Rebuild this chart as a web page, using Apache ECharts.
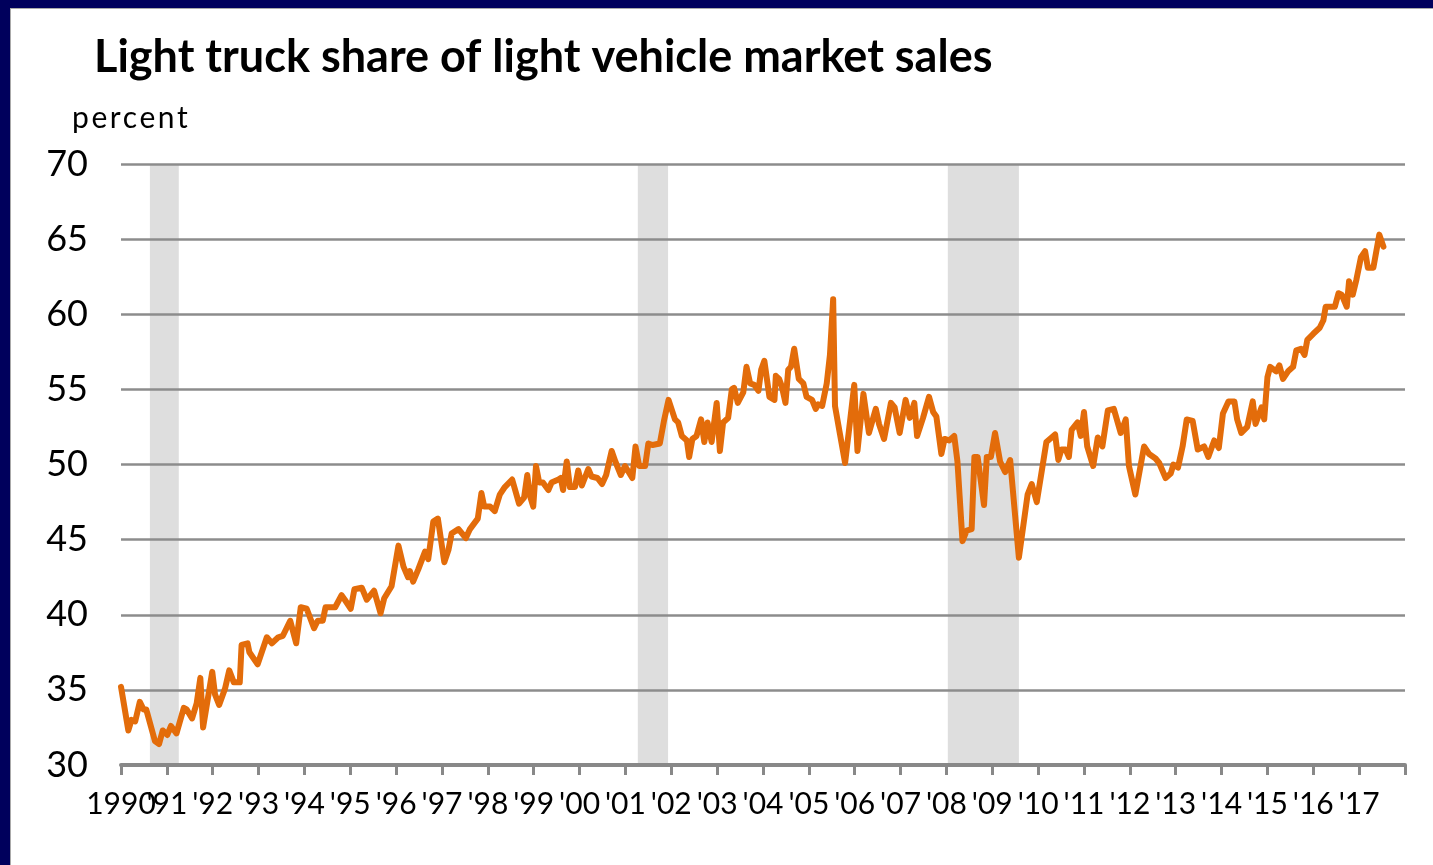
<!DOCTYPE html>
<html>
<head>
<meta charset="utf-8">
<script src="https://cdn.jsdelivr.net/npm/echarts@6/dist/echarts.min.js"></script>
<style>
  html, body { margin: 0; padding: 0; width: 1433px; height: 865px; overflow: hidden; background: #00005C; }
  #frame { position: absolute; left: 10px; top: 8px; width: 1423px; height: 857px; background: #fff; border-left: 1px solid #aaa; border-top: 1px solid #aaa; box-sizing: border-box; }
  #chart { position: absolute; left: 0; top: 0; width: 1433px; height: 865px; }
  #unit { position: absolute; left: 72px; top: 98px; font-family: Lato, "Open Sans", sans-serif; font-size: 30px; letter-spacing: 2.6px; color: #000; line-height: 36px; z-index: 5; }
</style>
</head>
<body>
<div id="frame"></div>
<div id="chart"></div>
<div id="unit"></div>
<script>
// Decimal-year positions of the line's vertices
var dates = [
  1990.0, 1990.16, 1990.23, 1990.31, 1990.41, 1990.49, 1990.55, 1990.74, 1990.83, 1990.91,
  1991.01, 1991.09, 1991.21, 1991.37, 1991.43, 1991.55, 1991.65, 1991.73, 1991.79, 1991.99,
  1992.05, 1992.14, 1992.27, 1992.36, 1992.40, 1992.46, 1992.59, 1992.63, 1992.76, 1992.80,
  1992.98, 1993.18, 1993.29, 1993.43, 1993.53, 1993.57, 1993.69, 1993.82, 1993.92, 1994.05,
  1994.21, 1994.29, 1994.40, 1994.46, 1994.67, 1994.81, 1994.88, 1995.01, 1995.09, 1995.25,
  1995.36, 1995.52, 1995.66, 1995.74, 1995.90, 1996.05, 1996.16, 1996.26, 1996.30, 1996.37,
  1996.48, 1996.63, 1996.70, 1996.81, 1996.91, 1997.05, 1997.14, 1997.21, 1997.36, 1997.52,
  1997.61, 1997.78, 1997.86, 1997.92, 1998.05, 1998.15, 1998.26, 1998.37, 1998.53, 1998.68,
  1998.79, 1998.86, 1998.92, 1998.99, 1999.05, 1999.12, 1999.20, 1999.32, 1999.39, 1999.54,
  1999.59, 1999.64, 1999.72, 1999.79, 1999.90, 1999.97, 2000.05, 2000.19, 2000.26, 2000.39,
  2000.49, 2000.58, 2000.70, 2000.78, 2000.90, 2000.99, 2001.15, 2001.22, 2001.30, 2001.43,
  2001.50, 2001.59, 2001.75, 2001.84, 2001.94, 2002.08, 2002.15, 2002.23, 2002.34, 2002.39,
  2002.46, 2002.55, 2002.65, 2002.72, 2002.79, 2002.88, 2002.99, 2003.06, 2003.13, 2003.24,
  2003.32, 2003.37, 2003.45, 2003.57, 2003.64, 2003.72, 2003.81, 2003.90, 2003.96, 2004.03,
  2004.14, 2004.25, 2004.28, 2004.35, 2004.41, 2004.49, 2004.55, 2004.61, 2004.68, 2004.78,
  2004.88, 2004.95, 2005.07, 2005.15, 2005.20, 2005.29, 2005.39, 2005.46, 2005.53, 2005.57,
  2005.68, 2005.79, 2005.88, 2005.99, 2006.06, 2006.19, 2006.31, 2006.46, 2006.53, 2006.64,
  2006.79, 2006.87, 2006.98, 2007.11, 2007.20, 2007.30, 2007.36, 2007.49, 2007.62, 2007.71,
  2007.78, 2007.89, 2007.96, 2008.06, 2008.17, 2008.24, 2008.35, 2008.44, 2008.55, 2008.61,
  2008.68, 2008.82, 2008.88, 2008.97, 2009.06, 2009.17, 2009.28, 2009.39, 2009.58, 2009.77,
  2009.86, 2009.97, 2010.07, 2010.18, 2010.37, 2010.44, 2010.51, 2010.60, 2010.67, 2010.73,
  2010.86, 2010.93, 2011.00, 2011.07, 2011.20, 2011.30, 2011.40, 2011.52, 2011.65, 2011.80,
  2011.91, 2011.98, 2012.12, 2012.31, 2012.42, 2012.56, 2012.64, 2012.78, 2012.89, 2012.95,
  2013.05, 2013.15, 2013.24, 2013.37, 2013.48, 2013.62, 2013.71, 2013.84, 2013.94, 2014.03,
  2014.15, 2014.28, 2014.34, 2014.43, 2014.56, 2014.68, 2014.74, 2014.87, 2014.93, 2015.00,
  2015.06, 2015.19, 2015.26, 2015.34, 2015.45, 2015.56, 2015.63, 2015.73, 2015.81, 2015.87,
  2016.00, 2016.14, 2016.22, 2016.27, 2016.47, 2016.55, 2016.62, 2016.73, 2016.78, 2016.86,
  2016.94, 2017.04, 2017.13, 2017.19, 2017.31, 2017.44, 2017.53
];
// Light truck share, percent
var shares = [
  35.2, 32.3, 33.0, 32.9, 34.2, 33.7, 33.7, 31.6, 31.4, 32.3,
  32.0, 32.6, 32.1, 33.8, 33.7, 33.1, 34.1, 35.8, 32.5, 36.2,
  34.7, 34.0, 35.1, 36.3, 36.3, 35.5, 35.5, 38.0, 38.1, 37.5,
  36.7, 38.5, 38.1, 38.5, 38.6, 38.5, 39.6, 38.1, 40.5, 40.4,
  39.1, 39.6, 39.6, 40.5, 40.5, 41.3, 41.0, 40.4, 41.7, 41.8,
  41.0, 41.6, 40.1, 41.1, 41.9, 44.6, 43.2, 42.5, 42.9, 42.2,
  43.0, 44.2, 43.7, 46.2, 46.4, 43.5, 44.3, 45.4, 45.7, 45.1,
  45.7, 46.4, 48.1, 47.2, 47.2, 46.9, 48.0, 48.5, 49.0, 47.4,
  47.8, 49.3, 47.9, 47.2, 49.9, 48.8, 48.8, 48.3, 48.8, 49.0,
  49.1, 48.3, 50.2, 48.5, 48.5, 49.6, 48.6, 49.7, 49.2, 49.1,
  48.7, 49.3, 50.9, 50.2, 49.3, 49.9, 49.1, 51.2, 49.9, 49.9,
  51.4, 51.3, 51.4, 52.9, 54.3, 53.0, 52.8, 51.9, 51.6, 50.5,
  51.7, 51.9, 53.0, 51.5, 52.8, 51.5, 54.1, 50.9, 52.8, 53.1,
  55.0, 55.1, 54.1, 54.8, 56.5, 55.4, 55.3, 54.9, 56.3, 56.9,
  54.5, 54.3, 55.9, 55.7, 55.2, 54.1, 56.3, 56.5, 57.7, 55.7,
  55.4, 54.5, 54.3, 53.7, 54.0, 53.9, 55.4, 57.3, 61.0, 53.9,
  52.0, 50.1, 52.4, 55.3, 50.9, 54.7, 52.1, 53.7, 52.7, 51.7,
  54.1, 53.8, 52.1, 54.3, 53.1, 54.1, 51.9, 53.1, 54.5, 53.5,
  53.2, 50.7, 51.7, 51.6, 51.9, 50.2, 44.9, 45.6, 45.7, 50.5,
  50.5, 47.3, 50.5, 50.5, 52.1, 50.2, 49.5, 50.3, 43.8, 48.0,
  48.7, 47.5, 49.4, 51.5, 52.0, 50.3, 51.0, 51.0, 50.5, 52.3,
  52.8, 51.9, 53.5, 51.2, 49.9, 51.8, 51.2, 53.6, 53.7, 52.1,
  53.0, 49.9, 48.0, 51.2, 50.7, 50.4, 50.1, 49.1, 49.4, 50.0,
  49.8, 51.2, 53.0, 52.9, 51.0, 51.2, 50.5, 51.6, 51.1, 53.4,
  54.2, 54.2, 53.0, 52.1, 52.5, 54.2, 52.7, 53.8, 53.0, 55.8,
  56.5, 56.2, 56.6, 55.7, 56.2, 56.5, 57.6, 57.7, 57.3, 58.3,
  58.7, 59.1, 59.6, 60.5, 60.5, 61.4, 61.3, 60.5, 62.2, 61.3,
  62.3, 63.8, 64.2, 63.1, 63.1, 65.3, 64.5
];
// Recession periods (decimal years)
var recessionStarts = [1990.63, 2001.27, 2008.03];
var recessionEnds   = [1991.26, 2001.93, 2009.58];
// Axis tick labels
var yearLabels = ['1990', "'91", "'92", "'93", "'94", "'95", "'96", "'97", "'98", "'99",
  "'00", "'01", "'02", "'03", "'04", "'05", "'06", "'07", "'08", "'09",
  "'10", "'11", "'12", "'13", "'14", "'15", "'16", "'17"];
var titleText = 'Light truck share of light vehicle market sales';
var unitText = 'percent';

document.getElementById('unit').textContent = unitText;

var lineData = dates.map(function (d, i) { return [d, shares[i]]; });
var bands = recessionStarts.map(function (s, i) { return [{ xAxis: s }, { xAxis: recessionEnds[i] }]; });

var chart = echarts.init(document.getElementById('chart'), null, { renderer: 'canvas' });
var FONT = 'Lato, "Open Sans", sans-serif';
function labelFor(parity) {
  // split labels over two axes so neighbouring labels never compete for space
  return function (v) {
    var i = Math.round(v - 1990);
    return (i % 2 === parity) ? (yearLabels[i] || '') : '';
  };
}
var xLabelStyle = { show: true, margin: 24, showMaxLabel: true, showMinLabel: true, hideOverlap: false,
  fontFamily: FONT, fontSize: 30, color: '#000' };
chart.setOption({
  backgroundColor: 'transparent',
  animation: false,
  title: {
    text: titleText, left: 89, top: 30,
    textStyle: { fontFamily: FONT, fontWeight: 'bold', fontSize: 45, color: '#000' }
  },
  grid: { left: 121, right: 28, top: 164, bottom: 100, containLabel: false },
  xAxis: [{
    type: 'value', min: 1990, max: 2018, interval: 1, z: 5,
    axisLine: { show: true, onZero: false, lineStyle: { color: '#888', width: 4 } },
    axisTick: { show: true, length: 10, lineStyle: { color: '#888', width: 3 } },
    splitLine: { show: false },
    axisLabel: Object.assign({}, xLabelStyle, { formatter: labelFor(0) })
  }, {
    type: 'value', min: 1990, max: 2018, interval: 1, z: 5, position: 'bottom', offset: 0,
    axisLine: { show: false, onZero: false }, axisTick: { show: false },
    splitLine: { show: false },
    axisLabel: Object.assign({}, xLabelStyle, { formatter: labelFor(1) })
  }],
  yAxis: {
    type: 'value', min: 30, max: 70, interval: 5, z: 5,
    axisLine: { show: false }, axisTick: { show: false },
    splitLine: { show: true, lineStyle: { color: '#8c8c8c', width: 2.5 } },
    axisLabel: { margin: 33, fontFamily: FONT, fontSize: 36, color: '#000' }
  },
  series: [{
    type: 'line', z: 0, data: [], silent: true,
    markArea: { silent: true, z: 0, itemStyle: { color: '#dedede' }, data: bands }
  }, {
    type: 'line', z: 10, data: lineData, showSymbol: false, smooth: false,
    lineStyle: { color: '#E36C0A', width: 6, join: 'round', cap: 'round' },
    itemStyle: { color: '#E36C0A' }
  }]
});
</script>
</body>
</html>
